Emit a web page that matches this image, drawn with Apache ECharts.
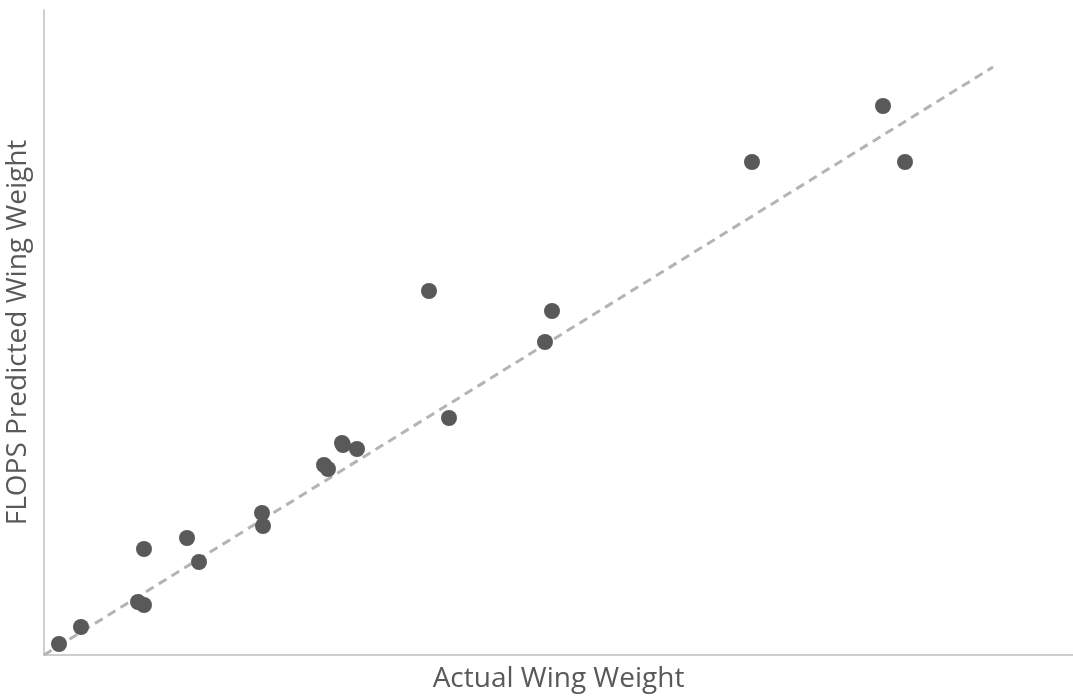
<!DOCTYPE html>
<html><head><meta charset="utf-8">
<script src="https://cdn.jsdelivr.net/npm/echarts@6/dist/echarts.min.js"></script>
<style>html,body{margin:0;padding:0;background:#fff}#c{width:1073px;height:696px}</style>
</head><body><div id="c"></div>
<script>
// Actual vs predicted wing weight (relative units)
const actual =    [15, 37, 94, 100, 100, 143, 155, 218, 219, 280, 284, 298, 299, 313, 385, 405, 501, 508, 708, 839, 861];
const predicted = [11, 28, 53, 50, 106, 117, 93, 142, 129, 190, 186, 212, 210, 206, 364, 237, 313, 344, 493, 549, 493];
const fitLineX = [0, 949];
const fitLineY = [0, 588];
const xTitle = 'Actual Wing Weight';
const yTitle = 'FLOPS Predicted Wing Weight';

const chart = echarts.init(document.getElementById('c'));
chart.setOption({
  animation: false,
  grid: {left: 44, right: 0, top: 10, bottom: 41, containLabel: false, outerBoundsMode: 'none'},
  xAxis: {
    type: 'value', min: 0, max: 1029,
    name: xTitle, nameLocation: 'middle', nameGap: 10,
    nameTextStyle: {fontFamily: 'Open Sans', fontSize: 28, color: '#595959'},
    axisLine: {lineStyle: {color: '#bfbfbf', width: 1.5}},
    axisTick: {show: false}, axisLabel: {show: false}, splitLine: {show: false}
  },
  yAxis: {
    type: 'value', min: 0, max: 645,
    name: yTitle, nameLocation: 'middle', nameGap: 12,
    nameTextStyle: {fontFamily: 'Open Sans', fontSize: 28, color: '#595959'},
    axisLine: {show: true, lineStyle: {color: '#bfbfbf', width: 1.5}},
    axisTick: {show: false}, axisLabel: {show: false}, splitLine: {show: false}
  },
  series: [
    {
      type: 'line',
      data: fitLineX.map((x, i) => [x, fitLineY[i]]),
      symbol: 'none',
      lineStyle: {color: '#b4b4b4', width: 3, type: [9, 6]},
      z: 1
    },
    {
      type: 'scatter',
      data: actual.map((x, i) => [x, predicted[i]]),
      symbolSize: 16,
      itemStyle: {color: '#595959', opacity: 1},
      z: 2
    }
  ]
});
</script></body></html>
